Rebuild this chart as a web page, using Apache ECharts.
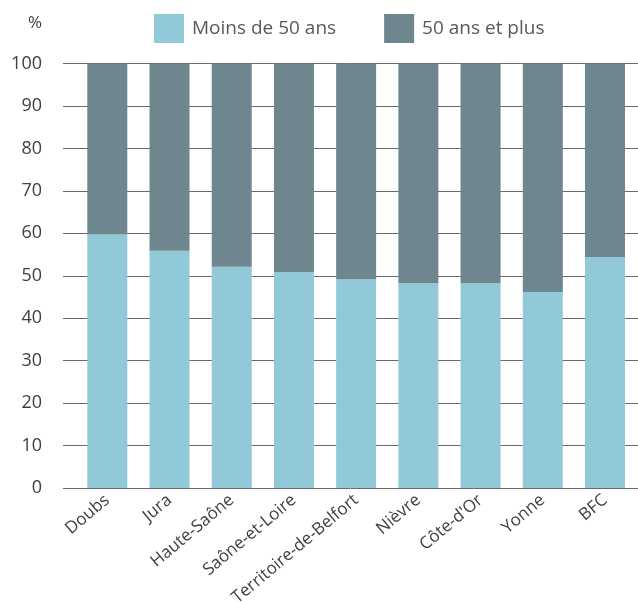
<!DOCTYPE html>
<html>
<head>
<meta charset="utf-8">
<script src="https://cdn.jsdelivr.net/npm/echarts@6/dist/echarts.min.js"></script>
<style>
html,body{margin:0;padding:0;background:#fff;}
#chart{width:638px;height:602px;}
</style>
</head>
<body>
<div id="chart"></div>
<script>
const categories = ['Doubs','Jura','Haute-Saône','Saône-et-Loire','Territoire-de-Belfort','Nièvre',"Côte-d'Or",'Yonne','BFC'];
const moins50 = [59.7, 55.9, 52.1, 50.9, 49.2, 48.3, 48.3, 46.2, 54.4];
const plus50 = [40.3, 44.1, 47.9, 49.1, 50.8, 51.7, 51.7, 53.8, 45.6];
const seriesNames = ['Moins de 50 ans', '50 ans et plus'];
const yTicks = [0, 10, 20, 30, 40, 50, 60, 70, 80, 90, 100];

const FONT = '"Open Sans", sans-serif';
const chart = echarts.init(document.getElementById('chart'), null, {renderer: 'canvas'});
chart.setOption({
  animation: false,
  backgroundColor: '#fff',
  textStyle: {fontFamily: FONT},
  legend: {
    data: seriesNames,
    left: 154,
    top: 14,
    padding: 0,
    itemWidth: 30,
    itemHeight: 29,
    itemGap: 48,
    icon: 'rect',
    textStyle: {fontFamily: FONT, fontSize: 19, color: '#595959', padding: [0, 0, 0, 3]}
  },
  graphic: [{
    type: 'text', left: 28, top: 15,
    style: {text: '%', font: '17px "Open Sans", sans-serif', fill: '#404040'}
  }],
  grid: [
    {left: 63, right: 0, top: 63.5, bottom: 114, containLabel: false, outerBoundsMode: 'none'},
    {left: 76.2, right: 1.9, top: 63.5, bottom: 114, containLabel: false, outerBoundsMode: 'none'}
  ],
  xAxis: [
    {type: 'value', gridIndex: 0, min: 0, max: 1, show: false},
    {
      type: 'category', gridIndex: 1, data: categories,
      axisLine: {show: false}, axisTick: {show: false},
      axisLabel: {rotate: 40, margin: 10, fontFamily: FONT, fontSize: 17, color: '#404040', interval: 0}
    }
  ],
  yAxis: [
    {
      type: 'value', gridIndex: 0, min: yTicks[0], max: yTicks[yTicks.length - 1], interval: 10,
      axisLine: {show: false}, axisTick: {show: false},
      axisLabel: {margin: 21, fontFamily: FONT, fontSize: 18, color: '#404040'},
      splitLine: {show: true, lineStyle: {color: '#6b6b6b', width: 1}}
    },
    {type: 'value', gridIndex: 1, min: 0, max: 100, show: false, splitLine: {show: false}}
  ],
  series: [
    {
      name: seriesNames[0], type: 'bar', stack: 'total', xAxisIndex: 1, yAxisIndex: 1,
      data: moins50, barWidth: 40, itemStyle: {color: '#92c9d8'}
    },
    {
      name: seriesNames[1], type: 'bar', stack: 'total', xAxisIndex: 1, yAxisIndex: 1,
      data: plus50, barWidth: 40, itemStyle: {color: '#6e868e'}
    }
  ]
});
</script>
</body>
</html>
